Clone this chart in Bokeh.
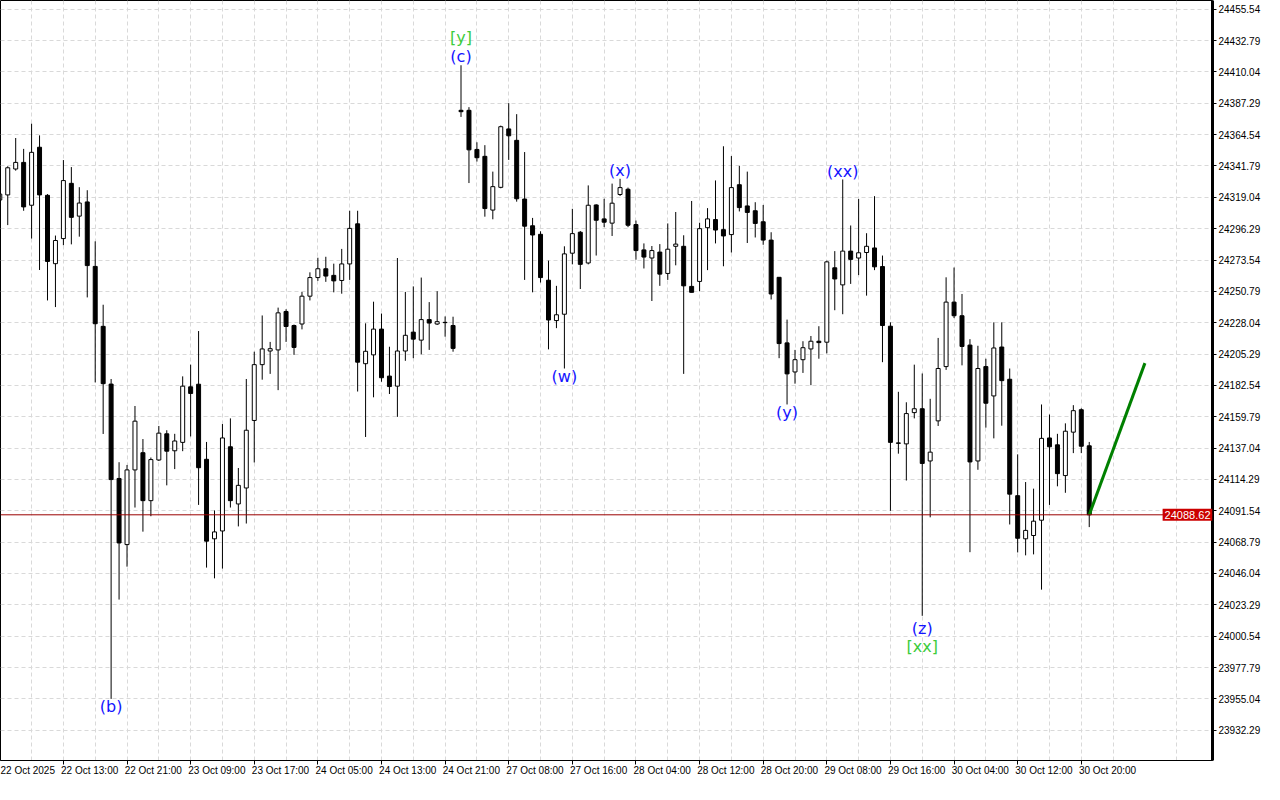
from bokeh.plotting import figure
from bokeh.models import (Range1d, FixedTicker, CustomJSTickFormatter, Span, Label,
                          ColumnDataSource, LinearAxis)
from bokeh.core.properties import value
from bokeh.embed import file_html
from bokeh.resources import INLINE

# ---------------- data (hourly bars) ----------------
open_ = [24317.1, 24320.8, 24339.6, 24344.4, 24313.3, 24355.4, 24320.5, 24270.9, 24289.1, 24329.2,
         24305.4, 24315.7, 24268.9, 24225.4, 24183.5, 24115.0, 24067.0, 24121.2, 24133.7, 24098.9,
         24128.4, 24147.4, 24135.1, 24141.2, 24181.5, 24183.4, 24128.9, 24071.2, 24076.9, 24138.0,
         24096.5, 24108.1, 24157.1, 24197.6, 24207.5, 24208.3, 24236.2, 24226.0, 24227.1, 24247.3,
         24260.8, 24267.2, 24262.4, 24258.7, 24270.7, 24299.8, 24198.3, 24204.7, 24223.4, 24189.3,
         24182.0, 24207.5, 24221.2, 24215.4, 24230.3, 24227.1, 24228.1, 24226.0, 24382.2, 24382.2,
         24353.8, 24348.8, 24309.8, 24326.3, 24368.7, 24360.4, 24317.8, 24298.4, 24292.2, 24258.9,
         24229.6, 24234.2, 24278.5, 24293.7, 24271.4, 24313.5, 24303.4, 24300.3, 24321.1, 24324.9,
         24299.3, 24280.9, 24275.0, 24279.3, 24263.8, 24283.5, 24283.5, 24254.4, 24258.0, 24297.0,
         24302.9, 24295.6, 24292.0, 24328.2, 24312.8, 24309.3, 24301.3, 24288.0, 24261.0, 24213.4,
         24192.3, 24201.2, 24209.0, 24214.6, 24213.9, 24267.9, 24255.5, 24280.0, 24275.0, 24279.0,
         24282.3, 24268.8, 24225.5, 24140.8, 24140.1, 24162.8, 24165.6, 24127.7, 24156.8, 24196.2,
         24243.0, 24233.1, 24211.8, 24127.7, 24196.2, 24174.9, 24210.4, 24187.0, 24102.5, 24071.2,
         24073.6, 24084.7, 24144.4, 24139.4, 24117.1, 24148.6, 24164.9, 24138.7]
high = [24324.2, 24341.6, 24362.1, 24354.2, 24372.5, 24364.0, 24321.4, 24291.3, 24346.1, 24341.0,
        24326.4, 24324.2, 24287.1, 24241.1, 24187.2, 24126.8, 24124.8, 24167.6, 24143.6, 24130.2,
        24153.1, 24150.0, 24147.4, 24189.1, 24197.6, 24222.0, 24141.5, 24091.8, 24154.5, 24158.6,
        24122.6, 24187.2, 24207.0, 24233.3, 24214.1, 24239.0, 24237.8, 24226.7, 24250.4, 24264.6,
        24275.2, 24275.9, 24270.9, 24281.6, 24309.3, 24309.3, 24227.6, 24243.3, 24234.7, 24210.6,
        24275.0, 24250.4, 24254.4, 24260.8, 24243.0, 24250.9, 24232.6, 24232.4, 24414.9, 24384.5,
        24359.0, 24356.9, 24337.7, 24371.1, 24387.4, 24379.4, 24351.9, 24304.1, 24294.4, 24273.1,
        24254.8, 24283.5, 24310.7, 24294.6, 24327.7, 24314.0, 24318.0, 24329.0, 24332.5, 24326.1,
        24302.2, 24285.6, 24283.7, 24285.1, 24300.1, 24308.4, 24291.5, 24316.4, 24300.6, 24311.2,
        24331.3, 24356.1, 24349.0, 24341.9, 24337.7, 24315.5, 24313.5, 24293.7, 24261.0, 24230.3,
        24208.3, 24214.6, 24218.4, 24225.5, 24273.1, 24280.0, 24332.0, 24298.6, 24317.8, 24293.0,
        24319.9, 24276.8, 24228.3, 24177.9, 24170.3, 24197.6, 24191.2, 24172.8, 24217.0, 24261.0,
        24268.1, 24248.9, 24216.1, 24211.3, 24201.9, 24228.3, 24228.3, 24194.8, 24132.5, 24112.4,
        24107.6, 24168.7, 24161.4, 24147.4, 24155.0, 24168.2, 24165.9, 24141.5]
low = [24313.5, 24298.9, 24338.4, 24309.3, 24289.1, 24266.3, 24244.2, 24239.4, 24284.3, 24284.9,
       24290.5, 24246.4, 24184.7, 24147.3, 23955.0, 24027.1, 24051.0, 24093.9, 24076.4, 24087.6,
       24127.7, 24110.0, 24121.8, 24134.8, 24145.5, 24095.8, 24050.3, 24042.5, 24049.6, 24093.9,
       24080.2, 24082.3, 24126.6, 24186.7, 24190.9, 24179.1, 24214.1, 24204.7, 24223.2, 24244.2,
       24258.4, 24257.7, 24250.1, 24249.1, 24259.1, 24178.1, 24145.1, 24173.9, 24185.2, 24176.3,
       24159.7, 24200.4, 24202.3, 24205.1, 24208.3, 24226.4, 24217.9, 24207.0, 24377.4, 24329.4,
       24345.0, 24305.0, 24303.1, 24325.6, 24346.2, 24315.9, 24259.1, 24250.1, 24257.2, 24208.7,
       24224.1, 24194.8, 24270.4, 24252.5, 24270.4, 24276.8, 24297.4, 24291.0, 24320.0, 24297.4,
       24273.8, 24267.4, 24243.8, 24254.8, 24259.1, 24269.7, 24190.9, 24250.1, 24250.9, 24266.2,
       24285.6, 24269.0, 24279.0, 24308.8, 24285.9, 24289.9, 24284.6, 24244.9, 24202.3, 24168.7,
       24183.8, 24191.6, 24182.7, 24201.9, 24205.8, 24237.1, 24234.2, 24256.2, 24262.6, 24247.7,
       24266.2, 24199.4, 24091.5, 24133.0, 24113.5, 24158.6, 24015.3, 24086.8, 24153.1, 24193.8,
       24231.4, 24197.1, 24061.5, 24121.3, 24151.9, 24144.1, 24153.3, 24081.6, 24061.3, 24059.2,
       24059.9, 24034.3, 24095.8, 24109.3, 24104.6, 24133.4, 24133.4, 24079.7]
close = [24321.4, 24340.5, 24344.4, 24312.1, 24351.7, 24320.8, 24272.5, 24287.7, 24331.2, 24304.5,
         24314.9, 24269.5, 24227.3, 24183.8, 24114.2, 24068.2, 24121.2, 24156.6, 24098.9, 24128.7,
         24147.9, 24134.8, 24142.2, 24182.0, 24176.7, 24122.8, 24069.5, 24076.2, 24144.4, 24098.9,
         24110.0, 24150.0, 24197.6, 24209.0, 24209.2, 24235.2, 24225.3, 24210.1, 24247.3, 24260.8,
         24267.2, 24261.9, 24258.4, 24270.7, 24296.5, 24199.4, 24207.3, 24223.4, 24188.1, 24181.7,
         24207.5, 24218.9, 24216.1, 24230.3, 24227.8, 24228.8, 24228.3, 24209.4, 24381.2, 24353.5,
         24347.8, 24310.9, 24326.8, 24370.3, 24363.7, 24318.0, 24298.1, 24291.7, 24260.8, 24230.0,
         24233.8, 24278.0, 24292.7, 24270.4, 24313.3, 24302.4, 24301.0, 24314.8, 24326.1, 24298.8,
         24280.4, 24275.7, 24280.4, 24263.3, 24281.4, 24285.1, 24254.8, 24250.1, 24296.3, 24303.4,
         24295.3, 24291.0, 24326.1, 24311.6, 24308.1, 24300.1, 24288.0, 24248.9, 24212.9, 24190.9,
         24201.2, 24209.9, 24214.6, 24213.6, 24272.2, 24259.8, 24280.0, 24274.0, 24278.8, 24283.5,
         24268.6, 24226.0, 24141.2, 24140.5, 24162.1, 24165.6, 24125.9, 24134.1, 24194.8, 24243.0,
         24233.1, 24210.8, 24127.0, 24194.8, 24169.6, 24209.7, 24186.0, 24103.6, 24071.6, 24077.3,
         24084.0, 24144.1, 24138.0, 24118.5, 24149.3, 24164.2, 24138.4, 24088.62]

time_labels = ["22 Oct 2025", "22 Oct 13:00", "22 Oct 21:00", "23 Oct 09:00", "23 Oct 17:00",
               "24 Oct 05:00", "24 Oct 13:00", "24 Oct 21:00", "27 Oct 08:00", "27 Oct 16:00",
               "28 Oct 04:00", "28 Oct 12:00", "28 Oct 20:00", "29 Oct 08:00", "29 Oct 16:00",
               "30 Oct 04:00", "30 Oct 12:00", "30 Oct 20:00"]
price_ticks = [23932.29, 23955.04, 23977.79, 24000.54, 24023.29, 24046.04, 24068.79, 24091.54,
               24114.29, 24137.04, 24159.79, 24182.54, 24205.29, 24228.04, 24250.79, 24273.54,
               24296.29, 24319.04, 24341.79, 24364.54, 24387.29, 24410.04, 24432.79, 24455.54]
last_price = 24088.62

forecast_bar = [137, 144]
forecast_price = [24088.62, 24198.7]

wave_text = ["(b)", "[y]", "(c)", "(w)", "(x)", "(y)", "(xx)", "(z)", "[xx]"]
wave_bar = [14, 58, 58, 71, 78, 99, 106, 116, 116]
wave_price = [23949.3, 24435.0, 24421.5, 24189.3, 24338.4, 24163.0, 24337.7, 24006.1, 23993.3]
wave_color = ["#1414ff", "#3ccc3c", "#1414ff", "#1414ff", "#1414ff", "#1414ff", "#1414ff", "#1414ff", "#3ccc3c"]

# ---------------- layout / derived ----------------
FRAME_W, FRAME_H = 1212, 760
X0, X1 = 0.09, 152.5
Y0, Y1 = 23910.3, 24461.9
n = len(close)
bars = list(range(n))
label_bars = list(range(0, n, 8))
grid_bars = [b for b in range(0, 156, 4) if b % 8 != 0]
LABEL_SHIFT = 3.3   # labels start at the tick (MetaTrader style)

src = ColumnDataSource(dict(
    x=bars,
    high=high,
    low=low,
    top=[max(o, c) for o, c in zip(open_, close)],
    bottom=[min(o, c) for o, c in zip(open_, close)],
    fill=["white" if c >= o else "black" for o, c in zip(open_, close)],
))

p = figure(frame_width=FRAME_W, frame_height=FRAME_H, output_backend="svg", toolbar_location=None,
           x_range=Range1d(X0, X1), y_range=Range1d(Y0, Y1),
           y_axis_location="right", min_border_left=0, min_border_top=0,
           min_border_right=2, min_border_bottom=0)
p.background_fill_color = "white"
p.border_fill_color = "white"
p.outline_line_color = "black"
p.outline_line_width = 1

# grid
p.xgrid.ticker = FixedTicker(ticks=label_bars, minor_ticks=grid_bars)
p.xaxis.ticker = FixedTicker(ticks=label_bars, minor_ticks=grid_bars)
p.yaxis.ticker = FixedTicker(ticks=price_ticks)
p.ygrid.ticker = FixedTicker(ticks=price_ticks)
for g in (p.xgrid, p.ygrid):
    g.grid_line_color = "#d9d9d9"
    g.grid_line_dash = "4 3"
    g.grid_line_width = 1
p.xgrid.minor_grid_line_color = "#d9d9d9"
p.xgrid.minor_grid_line_dash = "4 3"

# axes
p.yaxis.formatter = CustomJSTickFormatter(code="return tick.toFixed(2);")
for ax in (p.xaxis[0], p.yaxis[0]):
    ax.axis_line_color = "black"
    ax.major_tick_line_color = "black"
    ax.major_tick_in = 0
    ax.major_tick_out = 4
    ax.minor_tick_in = 0
    ax.minor_tick_out = 0
    ax.major_label_text_font = "Liberation Sans"
    ax.major_label_text_font_size = "10px"
    ax.major_label_text_color = "black"
    ax.major_label_standoff = 2
p.yaxis[0].axis_line_width = 3
# bottom axis: tick marks only
p.xaxis.formatter = CustomJSTickFormatter(code="return '';")
p.xaxis.major_label_standoff = 0

# second bottom axis carrying the time labels, left-aligned to the ticks
time_axis = LinearAxis(
    ticker=FixedTicker(ticks=[b + LABEL_SHIFT for b in label_bars]),
    formatter=CustomJSTickFormatter(args=dict(labels=time_labels, shift=LABEL_SHIFT),
                                    code="return labels[Math.round((tick - shift) / 8)];"),
    axis_line_color=None, major_tick_line_color=None, minor_tick_line_color=None,
    major_tick_in=0, major_tick_out=0, minor_tick_in=0, minor_tick_out=0,
    major_label_standoff=0,
    major_label_text_font="Liberation Sans", major_label_text_font_size="10px",
    major_label_text_color="black")
p.add_layout(time_axis, "below")

# candles
p.segment(x0="x", y0="high", x1="x", y1="low", source=src, line_color="black", line_width=1)
p.vbar(x="x", width=0.5, top="top", bottom="bottom", source=src,
       fill_color="fill", line_color="black", line_width=1)

# current price line
p.add_layout(Span(location=last_price, dimension="width", line_color="#9a0000", line_width=1))

# forecast line
p.line(forecast_bar, forecast_price, line_color="#008000", line_width=3)

# wave labels
wsrc = ColumnDataSource(dict(x=wave_bar, y=wave_price, t=wave_text, c=wave_color))
p.text(x="x", y="y", text="t", text_color="c", source=wsrc,
       text_font=value("DejaVu Sans"), text_font_size="16px",
       text_align="center", text_baseline="middle")

# price tag at the price scale (annotations are kept inside the frame, so it sits at its right edge)
p.add_layout(Label(x=X1, y=last_price, text=f"{last_price:.2f}",
                   text_align="right", text_baseline="middle",
                   text_font="Liberation Sans", text_font_size="11px", text_color="white",
                   background_fill_color="#cc0000", background_fill_alpha=1.0,
                   padding=2))

open("out.html", "w").write(file_html(p, INLINE))
